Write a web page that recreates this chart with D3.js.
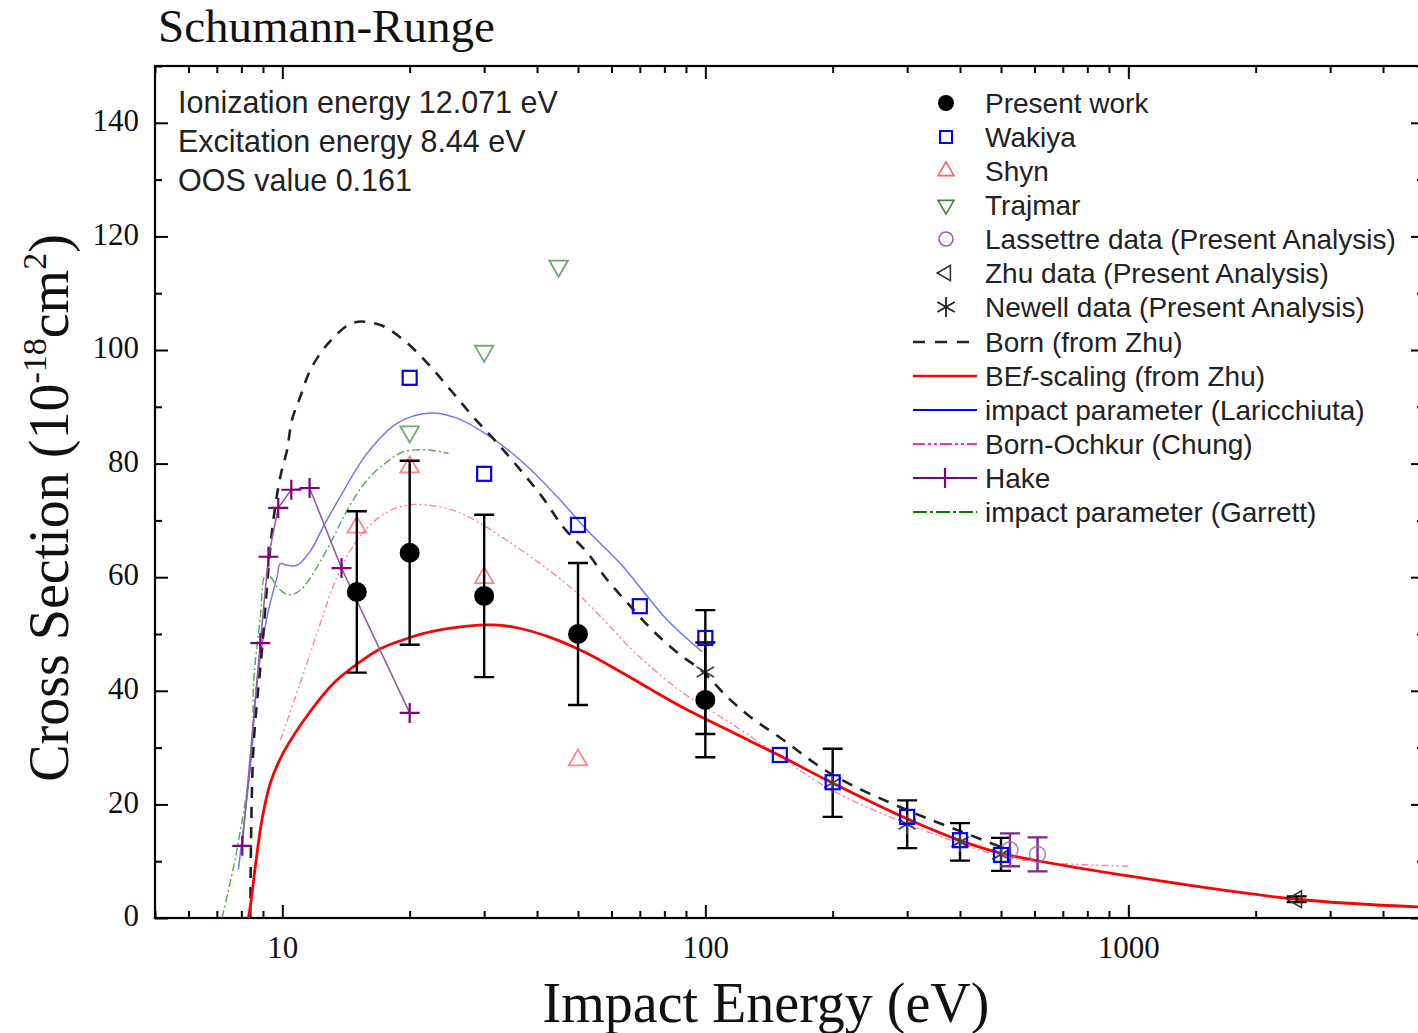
<!DOCTYPE html>
<html><head><meta charset="utf-8">
<script src="https://cdn.jsdelivr.net/npm/d3@7"></script>
<style>
body{margin:0;background:#fff;}
svg{display:block;}
</style></head>
<body><div id="chart"></div>
<script>
// ---- data ----
const presentE = [15, 20, 30, 50, 100];
const presentCS = [57.4, 64.3, 56.7, 50.0, 38.4];
const presentErr = [14.2, 16.2, 14.3, 12.5, 10.1];

const wakiyaE = [20, 30, 50, 70, 100, 150, 200, 300, 400, 500];
const wakiyaCS = [95.1, 78.2, 69.2, 54.9, 49.3, 28.7, 23.9, 17.8, 13.7, 11.1];

const shynE = [15, 20, 30, 50];
const shynCS = [68.8, 79.4, 59.9, 27.8];

const trajmarE = [20, 30, 45];
const trajmarCS = [85.6, 99.8, 114.8];

const lassettreE = [525, 610];
const lassettreCS = [12.0, 11.2];
const lassettreErr = [2.9, 3.0];

const zhuE = [2500];
const zhuCS = [3.3];
const zhuErr = [0.5];

const newellE = [100, 200, 300, 400, 500];
const newellCS = [43.3, 23.8, 16.5, 13.4, 11.2];
const newellErr = [10.9, 6.0, 4.2, 3.3, 2.9];

const bornE = [8.40, 8.54, 8.95, 9.46, 9.89, 10.26, 10.54, 11.03, 11.65, 12.85, 14.72, 17.05, 19.32, 22.02, 24.96, 28.29, 32.24, 36.52, 41.18, 46.16, 52.6, 58.66, 65.4, 74.9, 85.9, 98.9, 112.7, 127.8, 150.6, 200, 300, 400, 500];
const bornCS = [0, 29.6, 47.2, 68.3, 77.7, 82.4, 87.7, 91.8, 96.5, 101.2, 104.8, 104.4, 101.8, 97.7, 93.0, 88.2, 83.6, 78.9, 74.1, 68.8, 64.3, 59.5, 55.5, 50.7, 46.7, 43.3, 38.9, 35.4, 31.7, 25.2, 19.0, 15.3, 12.5];

const befE = [8.31, 8.40, 8.63, 8.95, 9.37, 10.07, 11.65, 13.2, 15.02, 17.05, 19.72, 22.75, 27.33, 31.54, 35.88, 43.0, 51.5, 61.8, 74.1, 88.7, 116.5, 150.6, 199.3, 297, 398, 500, 1000, 2500, 5000];
const befCS = [0, 2.0, 9.0, 17.3, 23.8, 29.2, 36.4, 41.3, 44.7, 47.4, 49.2, 50.5, 51.4, 51.6, 51.1, 49.4, 46.9, 43.7, 40.3, 37.0, 32.6, 28.5, 23.8, 17.6, 13.7, 11.4, 7.4, 3.3, 1.9];

const laricE = [7.87, 8.4, 8.71, 9.2, 9.72, 9.89, 10.26, 10.83, 11.65, 12.52, 13.71, 15.86, 18.67, 22.39, 25.88, 31.02, 37.19, 44.6, 52.5, 62.95, 81.2, 98.2];
const laricCS = [8.5, 26.6, 41.3, 53.0, 60.1, 62.4, 62.1, 62.1, 64.6, 69.0, 74.2, 81.8, 87.1, 88.9, 88.0, 84.7, 80.1, 74.2, 68.3, 62.4, 52.5, 46.9];

const chungE = [9.89, 11.03, 12.3, 13.47, 15.02, 17.05, 19.72, 24.5, 28.4, 33.9, 40.7, 48.9, 56.5, 68.9, 88.7, 116.5, 150.6, 199, 297, 398, 500, 654, 1000];
const chungCS = [31.3, 41.4, 51.9, 60.1, 66.5, 70.7, 72.7, 72.1, 70.1, 66.5, 62.4, 57.7, 53.1, 46.4, 39.6, 34.0, 28.3, 22.5, 16.7, 13.2, 10.9, 9.7, 9.15];

const hakeE = [8.04, 8.87, 9.27, 9.78, 10.5, 11.6, 13.8, 20];
const hakeCS = [12.7, 48.4, 63.6, 72.2, 75.4, 75.7, 61.6, 36.1];

const garrettE = [7.2, 7.81, 8.48, 8.55, 8.87, 9.12, 9.37, 9.72, 10.35, 11.03, 12.08, 13.22, 14.23, 15.86, 17.67, 19.35, 22.0, 24.7];
const garrettCS = [0, 12.0, 29.6, 41.3, 53.0, 60.4, 60.1, 58.3, 56.9, 57.7, 61.8, 67.1, 71.8, 77.1, 80.3, 82.1, 82.4, 81.8];

const yTicks = [0, 20, 40, 60, 80, 100, 120, 140];
const xTickLabels = [10, 100, 1000];

// ---- layout ----
const W = 1418, H = 1033;
const L = 155, R = 1424, T = 66, B = 918;

const svg = d3.select('#chart').append('svg')
    .attr('width', W).attr('height', H);

const x = d3.scaleLog().domain([5, 5000]).range([L, R]);
const y = d3.scaleLinear().domain([0, 150]).range([B, T]);

const zip = (a, b) => a.map((v, i) => [v, b[i]]);

svg.append('clipPath').attr('id', 'clip')
    .append('rect').attr('x', L).attr('y', T).attr('width', R - L).attr('height', B - T);

// ---- axes ----
const xMinor = [];
[1, 10, 100, 1000].forEach(d => {
    for (let k = 2; k <= 9; k++) {
        const v = k * d;
        if (v >= 5 && v <= 5000) xMinor.push(v);
    }
});
const yMinor = d3.range(10, 151, 20);

function styleAxis(g) {
    g.select('.domain').remove();
    g.selectAll('.tick line').attr('stroke', '#000').attr('stroke-width', 2);
}

svg.append('g').attr('transform', `translate(0,${B})`)
    .call(d3.axisBottom(x).tickValues(xTickLabels).tickSize(-13).tickFormat(d3.format('d')).tickPadding(18))
    .call(styleAxis)
    .selectAll('text').attr('font-family', 'Liberation Serif, Times New Roman, serif').attr('font-size', 31).attr('fill', '#111');
svg.append('g').attr('transform', `translate(0,${B})`)
    .call(d3.axisBottom(x).tickValues(xMinor).tickSize(-7).tickFormat(''))
    .call(styleAxis);
svg.append('g').attr('transform', `translate(0,${T})`)
    .call(d3.axisTop(x).tickValues(xTickLabels).tickSize(-13).tickFormat(''))
    .call(styleAxis);
svg.append('g').attr('transform', `translate(0,${T})`)
    .call(d3.axisTop(x).tickValues(xMinor).tickSize(-7).tickFormat(''))
    .call(styleAxis);

svg.append('g').attr('transform', `translate(${L},0)`)
    .call(d3.axisLeft(y).tickValues(yTicks).tickSize(-13).tickPadding(16))
    .call(styleAxis)
    .selectAll('text').attr('font-family', 'Liberation Serif, Times New Roman, serif').attr('font-size', 31).attr('fill', '#111')
    .attr('dy', '0.25em');
svg.append('g').attr('transform', `translate(${L},0)`)
    .call(d3.axisLeft(y).tickValues(yMinor).tickSize(-7).tickFormat(''))
    .call(styleAxis);
svg.append('g').attr('transform', `translate(${R},0)`)
    .call(d3.axisRight(y).tickValues(yTicks).tickSize(-13).tickFormat(''))
    .call(styleAxis);
svg.append('g').attr('transform', `translate(${R},0)`)
    .call(d3.axisRight(y).tickValues(yMinor).tickSize(-7).tickFormat(''))
    .call(styleAxis);

svg.append('rect').attr('x', L).attr('y', T).attr('width', R - L).attr('height', B - T)
    .attr('fill', 'none').attr('stroke', '#000').attr('stroke-width', 2.2);

// ---- curves ----
const line = d3.line().x(d => x(d[0])).y(d => y(d[1])).curve(d3.curveCatmullRom.alpha(0.5));
const plot = svg.append('g').attr('clip-path', 'url(#clip)');

plot.append('path').datum(zip(chungE, chungCS)).attr('d', line)
    .attr('fill', 'none').attr('stroke', '#ff5fa8').attr('stroke-width', 1.4)
    .attr('stroke-dasharray', '7,3,2,3,2,3').attr('opacity', 0.8);
plot.append('path').datum(zip(garrettE, garrettCS)).attr('d', line)
    .attr('fill', 'none').attr('stroke', '#1a8a1a').attr('stroke-width', 1.4)
    .attr('stroke-dasharray', '8,3,2,3').attr('opacity', 0.75);
plot.append('path').datum(zip(laricE, laricCS)).attr('d', line)
    .attr('fill', 'none').attr('stroke', '#5a5aff').attr('stroke-width', 1.5).attr('opacity', 0.85);
plot.append('path').datum(zip(bornE, bornCS)).attr('d', line)
    .attr('fill', 'none').attr('stroke', '#222').attr('stroke-width', 2.6)
    .attr('stroke-dasharray', '11,9');
plot.append('path').datum(zip(befE, befCS)).attr('d', line)
    .attr('fill', 'none').attr('stroke', '#ff0000').attr('stroke-width', 2.8);

// Hake
plot.append('path').datum(zip(hakeE, hakeCS)).attr('d', d3.line().x(d => x(d[0])).y(d => y(d[1])))
    .attr('fill', 'none').attr('stroke', '#8f6298').attr('stroke-width', 1.6);
function plus(g, cx, cy, s) {
    g.append('path').attr('d', `M${cx - s},${cy}H${cx + s}M${cx},${cy - s}V${cy + s}`)
        .attr('stroke', '#800080').attr('stroke-width', 2.2).attr('fill', 'none');
}
hakeE.forEach((e, i) => plus(plot, x(e), y(hakeCS[i]), 10));

// ---- markers ----
function errBars(g, es, cs, errs, color) {
    es.forEach((e, i) => {
        const cx = x(e), y1 = y(cs[i] + errs[i]), y2 = y(cs[i] - errs[i]);
        g.append('path').attr('d', `M${cx},${y1}V${y2}M${cx - 10},${y1}H${cx + 10}M${cx - 10},${y2}H${cx + 10}`)
            .attr('stroke', color).attr('stroke-width', 2.4).attr('fill', 'none');
    });
}

function asterisk(g, cx, cy, s, color) {
    let d = '';
    [90, 30, -30].forEach(a => {
        const r = a * Math.PI / 180;
        const dx = s * Math.cos(r), dy = s * Math.sin(r);
        d += `M${cx - dx},${cy - dy}L${cx + dx},${cy + dy}`;
    });
    g.append('path').attr('d', d).attr('stroke', color).attr('stroke-width', 1.8).attr('fill', 'none');
}

const sym = (type, size) => d3.symbol().type(type).size(size)();

// Trajmar
trajmarE.forEach((e, i) => {
    plot.append('path').attr('d', sym(d3.symbolTriangle, 150))
        .attr('transform', `translate(${x(e)},${y(trajmarCS[i])}) rotate(180)`)
        .attr('fill', 'none').attr('stroke', '#5a9a5a').attr('stroke-width', 1.8).attr('opacity', 0.85);
});
// Shyn
shynE.forEach((e, i) => {
    plot.append('path').attr('d', sym(d3.symbolTriangle, 150))
        .attr('transform', `translate(${x(e)},${y(shynCS[i])})`)
        .attr('fill', 'none').attr('stroke', '#ff7070').attr('stroke-width', 1.8).attr('opacity', 0.85);
});

// Newell
errBars(plot, newellE, newellCS, newellErr, '#000');
newellE.forEach((e, i) => asterisk(plot, x(e), y(newellCS[i]), 10, '#444'));

// Present work
errBars(plot, presentE, presentCS, presentErr, '#000');
presentE.forEach((e, i) => {
    plot.append('circle').attr('cx', x(e)).attr('cy', y(presentCS[i])).attr('r', 10).attr('fill', '#000');
});

// Lassettre
errBars(plot, lassettreE, lassettreCS, lassettreErr, '#7a2a8a');
lassettreE.forEach((e, i) => {
    plot.append('circle').attr('cx', x(e)).attr('cy', y(lassettreCS[i])).attr('r', 8)
        .attr('fill', 'none').attr('stroke', '#9a6aaa').attr('stroke-width', 1.6).attr('opacity', 0.8);
});

// Zhu
errBars(plot, zhuE, zhuCS, zhuErr, '#000');
zhuE.forEach((e, i) => {
    plot.append('path').attr('d', sym(d3.symbolTriangle, 120))
        .attr('transform', `translate(${x(e)},${y(zhuCS[i])}) rotate(-90)`)
        .attr('fill', 'none').attr('stroke', '#333').attr('stroke-width', 1.6);
});

// Wakiya
wakiyaE.forEach((e, i) => {
    plot.append('rect').attr('x', x(e) - 7).attr('y', y(wakiyaCS[i]) - 7)
        .attr('width', 14).attr('height', 14)
        .attr('fill', 'none').attr('stroke', '#0000ff').attr('stroke-width', 2.2);
});

// ---- text ----
const sans = 'Liberation Sans, Arial, sans-serif';
const serif = 'Liberation Serif, Times New Roman, serif';

svg.append('text').attr('x', 158).attr('y', 42).attr('font-family', serif).attr('font-size', 47)
    .attr('fill', '#111').text('Schumann-Runge');

['Ionization energy 12.071 eV', 'Excitation energy 8.44 eV', 'OOS value 0.161'].forEach((t, i) => {
    svg.append('text').attr('x', 178).attr('y', 113 + i * 39).attr('font-family', sans)
        .attr('font-size', 30.5).attr('fill', '#222').text(t);
});

// x label
svg.append('text').attr('x', 766).attr('y', 1022).attr('text-anchor', 'middle')
    .attr('font-family', serif).attr('font-size', 56).attr('fill', '#111').text('Impact Energy (eV)');

// y label
const yl = svg.append('text').attr('transform', 'translate(68,508) rotate(-90)')
    .attr('text-anchor', 'middle').attr('font-family', serif).attr('font-size', 56).attr('fill', '#111');
yl.append('tspan').text('Cross Section (10');
yl.append('tspan').attr('font-size', 34).attr('dy', -22).text('-18');
yl.append('tspan').attr('dy', 22).text('cm');
yl.append('tspan').attr('font-size', 34).attr('dy', -22).text('2');
yl.append('tspan').attr('dy', 22).text(')');

// ---- legend ----
const lg = svg.append('g');
const lx = 946, tx = 985, ly0 = 103, dy = 34;
const legendFont = 28;

const markerRows = [
    'Present work', 'Wakiya', 'Shyn', 'Trajmar',
    'Lassettre data (Present Analysis)', 'Zhu data (Present Analysis)', 'Newell data (Present Analysis)'
];
markerRows.forEach((t, i) => {
    lg.append('text').attr('x', tx).attr('y', ly0 + i * dy + 10).attr('font-family', sans)
        .attr('font-size', legendFont).attr('fill', '#222').text(t);
});
const my = i => ly0 + i * dy;
lg.append('circle').attr('cx', lx).attr('cy', my(0)).attr('r', 8).attr('fill', '#000');
lg.append('rect').attr('x', lx - 6).attr('y', my(1) - 6).attr('width', 12).attr('height', 12)
    .attr('fill', 'none').attr('stroke', '#0000ff').attr('stroke-width', 2);
lg.append('path').attr('d', sym(d3.symbolTriangle, 110)).attr('transform', `translate(${lx},${my(2)})`)
    .attr('fill', 'none').attr('stroke', '#ff6060').attr('stroke-width', 1.6);
lg.append('path').attr('d', sym(d3.symbolTriangle, 110)).attr('transform', `translate(${lx},${my(3)}) rotate(180)`)
    .attr('fill', 'none').attr('stroke', '#3a8a3a').attr('stroke-width', 1.6);
lg.append('circle').attr('cx', lx).attr('cy', my(4)).attr('r', 7)
    .attr('fill', 'none').attr('stroke', '#9a5aaa').attr('stroke-width', 1.6);
lg.append('path').attr('d', sym(d3.symbolTriangle, 100)).attr('transform', `translate(${lx},${my(5)}) rotate(-90)`)
    .attr('fill', 'none').attr('stroke', '#333').attr('stroke-width', 1.6);
asterisk(lg, lx, my(6), 10, '#222');

const lineRows = [
    {t: 'Born (from Zhu)', c: '#222', w: 2.4, dash: '12,10'},
    {t: 'BEf-scaling (from Zhu)', c: '#ff0000', w: 2.4, dash: null},
    {t: 'impact parameter (Laricchiuta)', c: '#0000ff', w: 2, dash: null},
    {t: 'Born-Ochkur (Chung)', c: '#ff3399', w: 2, dash: '12,3,3,3,3,3'},
    {t: 'Hake', c: '#800080', w: 2, dash: null},
    {t: 'impact parameter (Garrett)', c: '#008000', w: 2, dash: '14,3,3,3'}
];
const ly1 = 342;
lineRows.forEach((r, i) => {
    const yy = ly1 + i * dy;
    lg.append('line').attr('x1', 913).attr('x2', 977).attr('y1', yy).attr('y2', yy)
        .attr('stroke', r.c).attr('stroke-width', r.w).attr('stroke-dasharray', r.dash);
    const tt = lg.append('text').attr('x', tx).attr('y', yy + 10).attr('font-family', sans)
        .attr('font-size', legendFont).attr('fill', '#222');
    if (i === 1) {
        tt.append('tspan').text('BE');
        tt.append('tspan').attr('font-style', 'italic').text('f');
        tt.append('tspan').text('-scaling (from Zhu)');
    } else {
        tt.text(r.t);
    }
    if (i === 4) plus(lg, 945, yy, 10);
});
</script>
</body></html>
